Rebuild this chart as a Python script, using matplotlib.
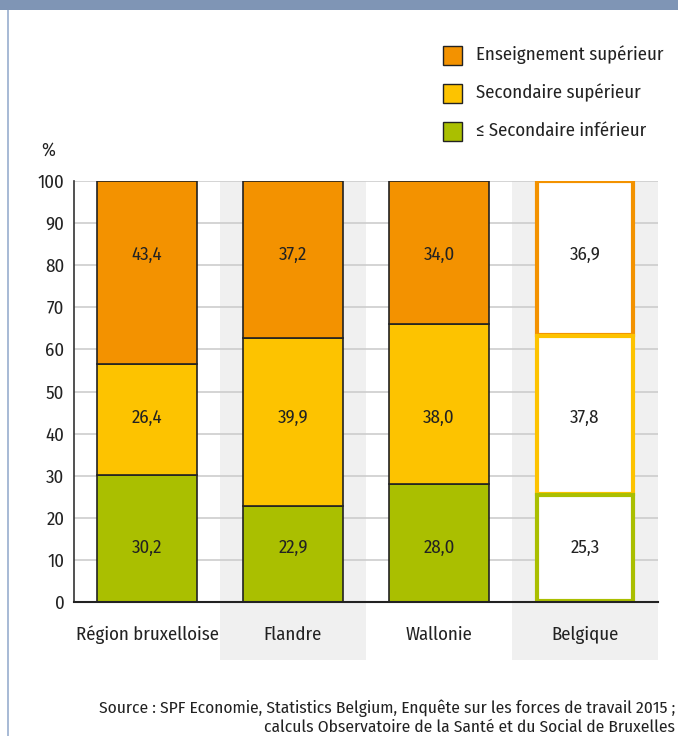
import matplotlib
matplotlib.use("Agg")
import matplotlib.pyplot as plt
from matplotlib.patches import Rectangle
import matplotlib.transforms as mtransforms

plt.rcParams['font.family'] = ['Fira Sans Condensed', 'PT Sans Narrow', 'Asap Condensed', 'DejaVu Sans']

categories = ["Région bruxelloise", "Flandre", "Wallonie", "Belgique"]
series_names = ["Enseignement supérieur", "Secondaire supérieur", "≤ Secondaire inférieur"]
low_sec = [30.2, 22.9, 28.0, 25.3]
upp_sec = [26.4, 39.9, 38.0, 37.8]
higher = [43.4, 37.2, 34.0, 36.9]
yticks = [0, 10, 20, 30, 40, 50, 60, 70, 80, 90, 100]

c_orange = "#F39200"
c_yellow = "#FDC300"
c_green = "#AABF00"
FS = 13.5
# label rows as placed in the original layout (bottom, middle, top)
label_rows = [12.8, 43.8, 82.5]

W, H = 678, 736
fig = plt.figure(figsize=(W / 100, H / 100), dpi=100)
fig.patch.set_facecolor("white")

# header band and left border
fig.add_artist(Rectangle((0, 1 - 10 / H), 1, 10 / H, transform=fig.transFigure,
                         facecolor="#7F95B5", edgecolor="none"))
fig.add_artist(Rectangle((7 / W, 0), 1.5 / W, 1 - 10 / H, transform=fig.transFigure,
                         facecolor="#A9BBD6", edgecolor="none"))

ax = fig.add_axes([74 / W, 1 - 602 / H, 584 / W, 421 / H])
ax.set_facecolor("none")
ax.set_xlim(-0.5, 3.5)
ax.set_ylim(0, 100)

# gray bands behind Flandre and Belgique
trans = mtransforms.blended_transform_factory(ax.transData, ax.transAxes)
for i in (1, 3):
    ax.add_patch(Rectangle((i - 0.5, -58 / 421), 1.0, 1 + 58 / 421, transform=trans,
                           facecolor="#F0F0F0", edgecolor="none", clip_on=False, zorder=0))

for y in yticks[1:]:
    ax.axhline(y, color="#CDCDCD", lw=1.2, zorder=1)

x = list(range(len(categories)))
bw = 0.68
for i in x:
    vals = [low_sec[i], upp_sec[i], higher[i]]
    cols = [c_green, c_yellow, c_orange]
    bottoms = [0, low_sec[i], low_sec[i] + upp_sec[i]]
    if i < 3:
        for v, b, c in zip(vals, bottoms, cols):
            ax.bar(i, v, bottom=b, width=bw, color=c, edgecolor="#222222", lw=1.2, zorder=3)
    else:
        for v, b, c, z in zip(vals, bottoms, cols, (5, 4, 3)):
            ax.bar(i, v - 0.35, bottom=b + 0.35, width=bw - 0.02, color="white",
                   edgecolor=c, lw=3.0, zorder=z)
    for v, ly in zip(vals, label_rows):
        ax.text(i, ly, f"{v:.1f}".replace(".", ","), ha="center", va="center",
                fontsize=FS, color="#222222", zorder=6)

for s in ("top", "right"):
    ax.spines[s].set_visible(False)
ax.spines["left"].set_color("#333333")
ax.spines["bottom"].set_color("#222222")
ax.spines["left"].set_linewidth(1.2)
ax.spines["bottom"].set_linewidth(1.5)
ax.spines["left"].set_zorder(7)
ax.spines["bottom"].set_zorder(7)

ax.set_yticks(yticks)
ax.set_yticklabels([str(t) for t in yticks], fontsize=FS, color="#222222")
ax.set_xticks(x)
ax.set_xticklabels(categories, fontsize=FS, color="#222222")
ax.tick_params(axis="both", length=0)
ax.tick_params(axis="y", pad=7)
ax.tick_params(axis="x", pad=17)

fig.text(48 / W, 1 - 150 / H, "%", fontsize=FS, color="#222222", ha="center", va="center")

# legend
leg_cols = [c_orange, c_yellow, c_green]
for k, (name, c) in enumerate(zip(series_names, leg_cols)):
    yc = 55 + 38 * k
    fig.add_artist(Rectangle((443 / W, 1 - (yc + 9.5) / H), 19 / W, 19 / H,
                             transform=fig.transFigure, facecolor=c,
                             edgecolor="#222222", lw=1.0))
    fig.text(476 / W, 1 - yc / H, name, fontsize=FS, color="#222222",
             ha="left", va="center")

fig.text(675 / W, 1 - 708 / H,
         "Source : SPF Economie, Statistics Belgium, Enquête sur les forces de travail 2015 ;",
         fontsize=12.5, color="#222222", ha="right", va="center")
fig.text(675 / W, 1 - 727 / H,
         "calculs Observatoire de la Santé et du Social de Bruxelles",
         fontsize=12.5, color="#222222", ha="right", va="center")

fig.savefig("out.png", dpi=100)
